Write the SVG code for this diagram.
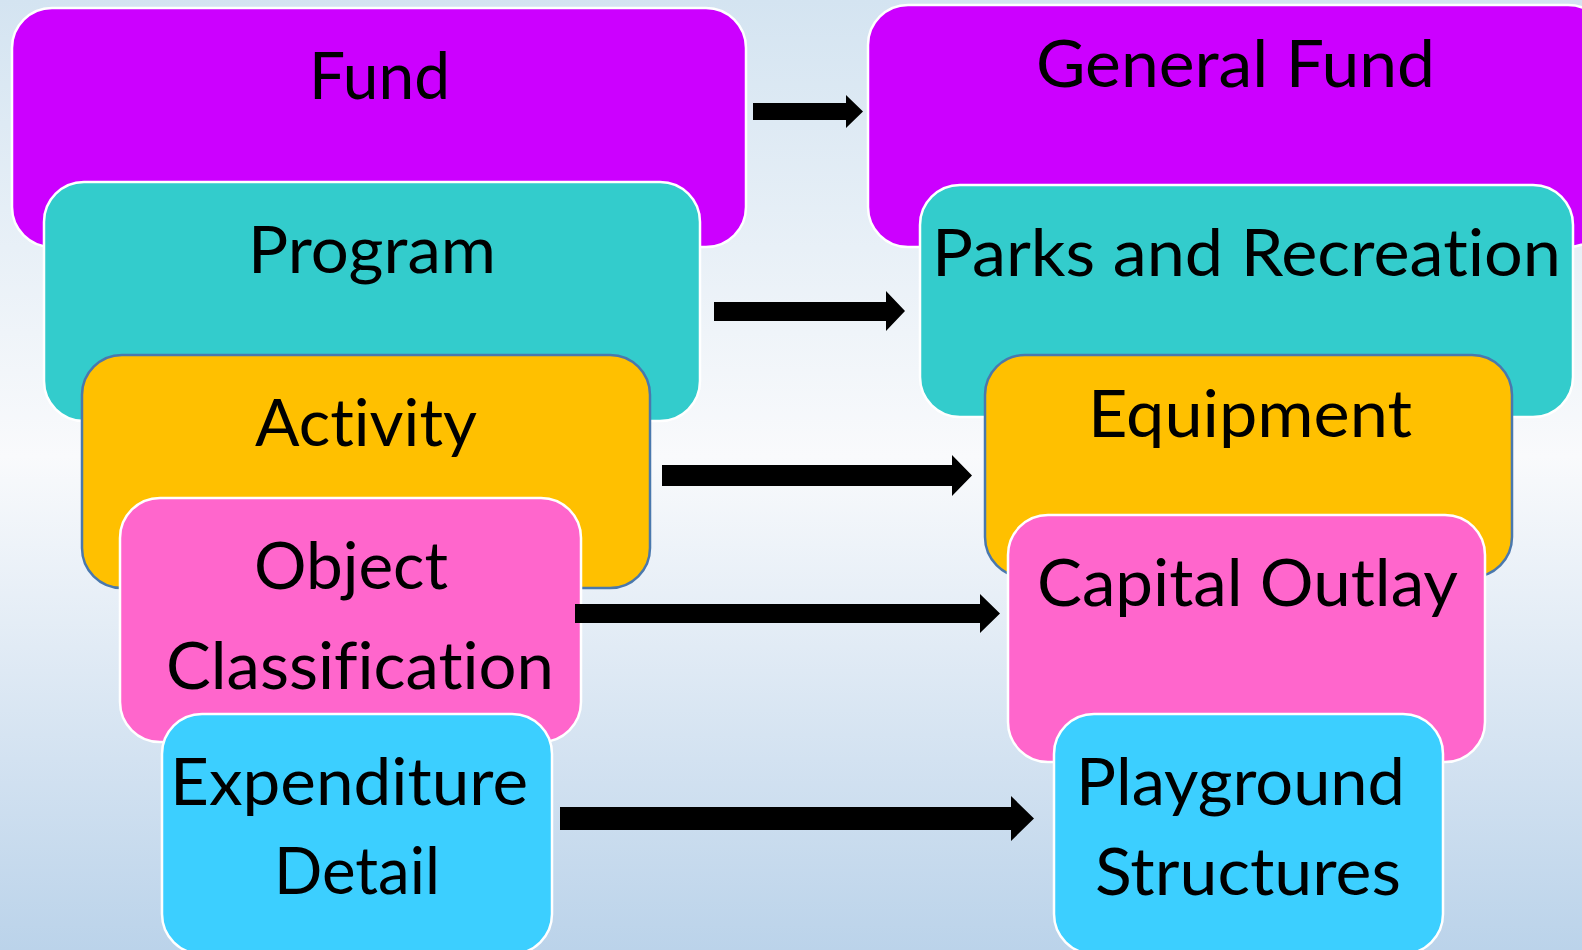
<svg xmlns="http://www.w3.org/2000/svg" width="1582" height="950" viewBox="0 0 1582 950">
<defs>
<linearGradient id="bg" x1="0" y1="0" x2="0" y2="1">
<stop offset="0" stop-color="#d4e4f1"/>
<stop offset="0.48" stop-color="#f9fafc"/>
<stop offset="1" stop-color="#bbd3ea"/>
</linearGradient>
<style>
.box{stroke:#ffffff;stroke-width:2.5}
.blue{stroke:#4a78ad;stroke-width:2.5}
.fund{fill:#cc00ff}
.prog{fill:#33cccc}
.act{fill:#ffc000}
.obj{fill:#ff66cc}
.exp{fill:#3ccfff}
text{font-family:Lato,"Open Sans","Liberation Sans",sans-serif;font-size:66px;fill:#000000;text-anchor:middle;font-variant-ligatures:none;font-feature-settings:"liga" 0}
.arrow{fill:#000000}
</style>
</defs>
<rect x="0" y="0" width="1582" height="950" fill="url(#bg)"/>
<g id="fund">
<rect class="box fund" x="12" y="8" width="734" height="239" rx="40" ry="40"/>
<text x="379.5" y="99" textLength="141" lengthAdjust="spacingAndGlyphs">Fund</text>
</g>
<g id="program">
<rect class="box prog" x="44" y="182" width="656" height="239" rx="40" ry="40"/>
<text x="372" y="273" textLength="248" lengthAdjust="spacingAndGlyphs">Program</text>
</g>
<g id="activity">
<rect class="blue act" x="82" y="355" width="568" height="233" rx="40" ry="40"/>
<text x="366" y="446" textLength="222" lengthAdjust="spacingAndGlyphs">Activity</text>
</g>
<g id="object">
<rect class="box obj" x="120" y="498" width="461" height="244" rx="40" ry="40"/>
<text x="351" y="589" textLength="194" lengthAdjust="spacingAndGlyphs">Object</text>
<text x="360" y="689" textLength="388" lengthAdjust="spacingAndGlyphs">Classification</text>
</g>
<g id="expenditure">
<rect class="box exp" x="162" y="714" width="390" height="240" rx="40" ry="40"/>
<text x="349" y="805" textLength="358" lengthAdjust="spacingAndGlyphs">Expenditure</text>
<text x="357" y="894" textLength="166" lengthAdjust="spacingAndGlyphs">Detail</text>
</g>
<g id="general-fund">
<rect class="box fund" x="868" y="5" width="740" height="242" rx="40" ry="40"/>
<text x="1235.5" y="87" textLength="399" lengthAdjust="spacingAndGlyphs">General Fund</text>
</g>
<g id="parks">
<rect class="box prog" x="920" y="185" width="653" height="232" rx="40" ry="40"/>
<text x="1246.5" y="276" textLength="629" lengthAdjust="spacingAndGlyphs">Parks and Recreation</text>
</g>
<g id="equipment">
<rect class="blue act" x="985" y="355" width="527" height="222" rx="40" ry="40"/>
<text x="1250" y="437" textLength="324" lengthAdjust="spacingAndGlyphs">Equipment</text>
</g>
<g id="capital">
<rect class="box obj" x="1008" y="515" width="477" height="247" rx="40" ry="40"/>
<text x="1247.5" y="606" textLength="421" lengthAdjust="spacingAndGlyphs">Capital Outlay</text>
</g>
<g id="playground">
<rect class="box exp" x="1054" y="714" width="389" height="240" rx="40" ry="40"/>
<text x="1240.5" y="805" textLength="329" lengthAdjust="spacingAndGlyphs">Playground</text>
<text x="1248" y="895" textLength="306" lengthAdjust="spacingAndGlyphs">Structures</text>
</g>
<g id="connectors">
<polygon class="arrow" points="753,103 846,103 846,95 863,111.5 846,128 846,120 753,120"/>
<polygon class="arrow" points="714,302 886,302 886,291 905,311 886,331 886,321 714,321"/>
<polygon class="arrow" points="662,465 952,465 952,455 972,475.5 952,496 952,486 662,486"/>
<polygon class="arrow" points="575,604 980,604 980,594 1000,613.5 980,633 980,623 575,623"/>
<polygon class="arrow" points="560,807 1011,807 1011,796 1034,818.5 1011,841 1011,830 560,830"/>
</g>
</svg>
